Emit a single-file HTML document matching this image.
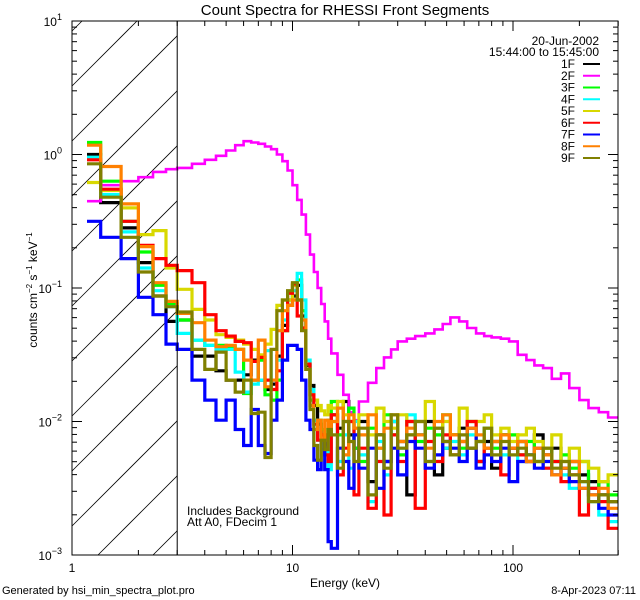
<!DOCTYPE html>
<html><head><meta charset="utf-8"><style>
html,body{margin:0;padding:0;background:#fff;width:640px;height:600px;overflow:hidden;}
svg{display:block;font-family:"Liberation Sans",sans-serif;}
</style></head><body>
<svg id="chart" width="640" height="600" viewBox="0 0 640 600" xmlns="http://www.w3.org/2000/svg" overflow="hidden">
<rect width="640" height="600" fill="#fff"/>
<defs><clipPath id="pc"><rect x="72" y="21" width="546" height="534"/></clipPath></defs>
<text x="345" y="15" font-size="15" text-anchor="middle">Count Spectra for RHESSI Front Segments</text>
<g id="hatch"></g>
<g id="series" clip-path="url(#pc)"></g>
<g id="axes"></g>
<text x="345" y="587" font-size="12" text-anchor="middle">Energy (keV)</text>
<text transform="translate(37,290) rotate(-90)" font-size="12" text-anchor="middle">counts cm<tspan font-size="8" dy="-5">−2</tspan><tspan dy="5"> s</tspan><tspan font-size="8" dy="-5">−1</tspan><tspan dy="5"> keV</tspan><tspan font-size="8" dy="-5">−1</tspan></text>
<text x="187" y="515" font-size="12">Includes Background</text>
<text x="187" y="526" font-size="12">Att A0, FDecim 1</text>
<text x="2" y="594" font-size="11">Generated by hsi_min_spectra_plot.pro</text>
<text x="636" y="594" font-size="11" text-anchor="end">8-Apr-2023 07:11</text>
<text x="599" y="45" font-size="12" text-anchor="end">20-Jun-2002</text>
<text x="599" y="56" font-size="12" text-anchor="end">15:44:00 to 15:45:00</text>
<g id="legend"></g>
</svg>
<script>
const edges=[1.17,1.35,1.67,2.0,2.33,2.67,3.0,
3.5,4,4.5,5,5.5,6,6.5,7,7.5,8,8.5,9,9.5,10,10.5,11,11.5,12,12.5,13,13.5,14,14.5,15,
16,17,18,19,20,22,24,26,28,30,33,36,40,44,48,52,57,62,68,74,80,88,96,105,115,125,137,150,165,180,200,220,245,270,300];
const seriesNames=["1F","2F","3F","4F","5F","6F","7F","8F","9F"];
const seriesColors=["#000000","#ff00ff","#00ff00","#00ffff","#d8d800","#ff0000","#0000ff","#ff8000","#808000"];
const s1F=[0.00,-0.36,-0.55,-0.81,-1.06,-1.25,
-1.24,-1.51,-1.51,-1.62,-1.69,-1.69,-1.65,-1.54,-1.69,-1.76,-1.72,-1.51,-1.28,-1.13,-1.06,-0.98,-1.21,-1.58,-1.73,-1.88,-2.02,-2.10,-2.17,-2.02,
-1.95,-2.05,-1.85,-2.1,-2.2,-2.0,-2.45,-2.1,-2.3,-2.0,-2.15,-2.55,-2.1,-2.0,-2.4,-2.2,-2.1,-2.05,-2.2,-2.3,-2.15,-2.35,-2.1,-2.2,-2.15,-2.3,-2.1,-2.25,-2.2,-2.35,-2.3,-2.4,-2.45,-2.55,-2.6];
const s2F=[-0.35,-0.23,-0.20,-0.17,-0.13,-0.11,
-0.10,-0.07,-0.04,-0.01,0.03,0.07,0.10,0.09,0.08,0.06,0.04,0.00,-0.05,-0.12,-0.23,-0.34,-0.45,-0.60,-0.75,-0.88,-1.00,-1.12,-1.25,-1.38,
-1.49,-1.65,-1.80,-1.93,-1.99,-1.85,-1.71,-1.60,-1.52,-1.46,-1.40,-1.38,-1.36,-1.34,-1.31,-1.27,-1.22,-1.25,-1.30,-1.34,-1.36,-1.37,-1.38,-1.40,-1.50,-1.54,-1.58,-1.60,-1.68,-1.64,-1.75,-1.84,-1.90,-1.93,-1.97];
const s3F=[0.09,-0.20,-0.50,-0.73,-0.98,-1.12,
-1.24,-1.39,-1.43,-1.43,-1.44,-1.46,-1.79,-1.69,-1.54,-1.80,-1.84,-1.69,-1.32,-1.09,-0.98,-0.94,-1.17,-1.54,-1.84,-1.99,-1.99,-2.06,-2.14,-1.99,
-1.85,-2.1,-2.0,-1.9,-2.2,-2.3,-2.05,-2.2,-1.95,-2.1,-2.25,-2.0,-2.15,-2.05,-2.1,-1.95,-2.1,-2.2,-2.0,-2.15,-2.05,-2.2,-2.1,-2.1,-2.25,-2.15,-2.3,-2.2,-2.3,-2.25,-2.35,-2.3,-2.5,-2.45,-2.55];
const s4F=[-0.02,-0.30,-0.58,-0.85,-1.02,-1.14,
-1.34,-1.39,-1.43,-1.46,-1.46,-1.63,-1.78,-1.72,-1.69,-1.47,-1.69,-1.54,-1.24,-1.09,-1.02,-0.89,-1.09,-1.54,-1.76,-1.99,-2.14,-2.21,-2.14,-2.36,
-2.0,-2.3,-2.1,-2.35,-2.0,-2.25,-2.6,-2.15,-2.4,-2.0,-2.2,-1.95,-2.1,-2.3,-2.05,-2.2,-2.15,-2.25,-2.1,-2.3,-2.2,-2.15,-2.25,-2.2,-2.3,-2.25,-2.2,-2.35,-2.3,-2.4,-2.5,-2.45,-2.6,-2.7,-2.75];
const s5F=[-0.21,-0.27,-0.40,-0.60,-0.57,-0.85,
-1.01,-1.16,-1.24,-1.35,-1.37,-1.39,-1.42,-1.46,-1.50,-1.42,-1.31,-1.13,-1.09,-1.09,-0.98,-1.09,-1.31,-1.61,-1.80,-1.84,-1.88,-1.92,-1.95,-1.88,
-1.9,-1.85,-1.95,-2.0,-2.05,-1.95,-2.1,-1.9,-2.0,-2.05,-1.95,-2.1,-2.0,-1.85,-2.05,-2.0,-2.1,-1.9,-2.05,-2.0,-1.95,-2.1,-2.05,-2.15,-2.1,-2.05,-2.15,-2.2,-2.1,-2.3,-2.2,-2.3,-2.35,-2.45,-2.4];
const s6F=[-0.04,-0.26,-0.50,-0.68,-0.78,-0.83,
-0.87,-0.96,-1.20,-1.32,-1.36,-1.40,-1.41,-1.55,-1.52,-1.69,-1.76,-1.62,-1.32,-1.04,-0.97,-1.21,-1.30,-1.57,-1.80,-2.02,-2.14,-2.10,-2.25,-2.30,
-1.95,-2.4,-2.2,-2.0,-2.55,-2.2,-2.65,-2.3,-2.7,-2.1,-2.3,-2.0,-2.65,-2.15,-2.3,-2.1,-2.25,-2.15,-2.0,-2.3,-2.2,-2.15,-2.4,-2.2,-2.25,-2.3,-2.2,-2.35,-2.3,-2.45,-2.4,-2.7,-2.5,-2.6,-2.8];
const s7F=[-0.50,-0.62,-0.78,-1.07,-1.20,-1.42,
-1.46,-1.69,-1.84,-1.99,-1.84,-2.06,-2.18,-1.91,-2.18,-2.24,-1.99,-1.84,-1.54,-1.43,-1.43,-1.46,-1.69,-1.99,-2.06,-2.29,-2.36,-2.14,-2.36,-2.90,
-2.95,-2.2,-2.3,-2.5,-2.1,-2.35,-2.2,-2.5,-2.3,-2.2,-2.4,-2.15,-2.2,-2.35,-2.25,-2.15,-2.2,-2.3,-2.05,-2.35,-2.25,-2.3,-2.2,-2.45,-2.3,-2.25,-2.35,-2.3,-2.4,-2.35,-2.45,-2.5,-2.55,-2.65,-2.7];
const s8F=[0.07,-0.09,-0.37,-0.69,-0.96,-1.10,
-1.19,-1.26,-1.39,-1.44,-1.43,-1.46,-1.54,-1.69,-1.39,-1.74,-1.69,-1.32,-1.17,-1.13,-1.09,-1.09,-1.24,-1.61,-1.88,-2.06,-1.99,-2.14,-1.99,-2.10,
-2.0,-1.9,-2.25,-1.95,-2.05,-2.1,-1.95,-2.2,-2.05,-1.95,-2.15,-2.05,-2.1,-2.2,-2.0,-1.95,-2.1,-2.15,-2.05,-2.1,-2.2,-2.15,-2.1,-2.2,-2.15,-2.3,-2.2,-2.25,-2.4,-2.35,-2.3,-2.5,-2.55,-2.5,-2.65];
const s9F=[-0.07,-0.32,-0.62,-0.88,-1.06,-1.14,
-1.18,-1.46,-1.61,-1.48,-1.69,-1.78,-1.69,-1.94,-1.93,-2.27,-1.46,-1.17,-1.09,-1.02,-0.96,-1.09,-1.32,-1.61,-1.91,-2.18,-2.29,-2.14,-2.21,-2.06,
-2.1,-2.35,-2.0,-2.15,-2.3,-2.05,-2.55,-2.1,-2.35,-1.95,-2.2,-2.1,-2.0,-2.3,-2.05,-2.15,-2.25,-2.1,-2.2,-2.15,-2.05,-2.25,-2.15,-2.25,-2.2,-2.25,-2.3,-2.2,-2.35,-2.3,-2.4,-2.45,-2.6,-2.55,-2.6];
const seriesValues=[s1F,s2F,s3F,s4F,s5F,s6F,s7F,s8F,s9F];
const yTickExps=[1,0,-1,-2,-3];
const xTickLabels=[1,10,100];

const NS="http://www.w3.org/2000/svg";
const X0=72,X1=618,Y0=21,Y1=555;
const xDec=220.5, yDec=(Y1-Y0)/4;
function xs(e){return X0+Math.log10(e)*xDec;}
function ys(l){return Y0+(1-l)*yDec;}
function mk(tag,attrs,parent){const el=document.createElementNS(NS,tag);for(const k in attrs)el.setAttribute(k,attrs[k]);parent.appendChild(el);return el;}

const hatch=document.getElementById('hatch');
const HX1=xs(3);
for(let k=-1;k<14;k++){
  const c=86+55*k;
  const xa=Math.max(X0, X0+c-Y1), xb=Math.min(HX1, X0+c-Y0);
  if(xb<=xa)continue;
  const ln=mk('line',{x1:xa,y1:c-(xa-X0),x2:xb,y2:c-(xb-X0),stroke:'#000','stroke-width':0.8},hatch);
  
  
}
const vl=mk('line',{x1:HX1,y1:Y0,x2:HX1,y2:Y1,stroke:'#000','stroke-width':1},document.getElementById('axes'));



const sg=document.getElementById('series');
seriesValues.forEach((vals,si)=>{
  let d='M'+xs(edges[0]).toFixed(1)+','+ys(vals[0]).toFixed(1);
  for(let i=0;i<vals.length;i++){
    if(i>0)d+=' V'+ys(vals[i]).toFixed(1);
    d+=' H'+xs(edges[i+1]).toFixed(1);
  }
  const p=mk('path',{d:d,fill:'none',stroke:seriesColors[si],'stroke-width':si==1?2.6:3.2,'stroke-linejoin':'miter'},sg);
  
  
});

const ax=document.getElementById('axes');
const frame=mk('rect',{x:X0,y:Y0,width:X1-X0,height:Y1-Y0,fill:'none',stroke:'#000','stroke-width':1},ax);


for(let dcd=-3;dcd<1;dcd++){
  for(let m=1;m<10;m++){
    const y=ys(dcd+Math.log10(m));
    const L=m==1?10:5;
    mk('line',{x1:X0,y1:y,x2:X0+L,y2:y,stroke:'#000'},ax);
    mk('line',{x1:X1,y1:y,x2:X1-L,y2:y,stroke:'#000'},ax);
  }
}
for(let dcd=0;dcd<3;dcd++){
  for(let m=1;m<10;m++){
    const v=m*Math.pow(10,dcd); if(v>300)break;
    const x=xs(v); const L=m==1?10:5;
    mk('line',{x1:x,y1:Y1,x2:x,y2:Y1-L,stroke:'#000'},ax);
    mk('line',{x1:x,y1:Y0,x2:x,y2:Y0+L,stroke:'#000'},ax);
  }
}
yTickExps.forEach(e=>{
  const t=mk('text',{x:X0-10,y:ys(e)+5,'font-size':12,'text-anchor':'end'},ax);
  t.textContent='10';
  const s=mk('tspan',{'font-size':9,dy:-6},t); s.textContent=e<0?'−'+(-e):String(e);
  
  
});
xTickLabels.forEach(v=>{
  const t=mk('text',{x:xs(v),y:Y1+17,'font-size':12,'text-anchor':'middle'},ax);
  t.textContent=String(v);
  
  
});

const lg=document.getElementById('legend');
seriesNames.forEach((n,i)=>{
  const y=64+i*11.75;
  const g=mk('g',{},lg);
  
  
  const t=mk('text',{x:575,y:y+4,'font-size':12,'text-anchor':'end'},g); t.textContent=n;
  mk('line',{x1:583,y1:y,x2:600,y2:y,stroke:seriesColors[i],'stroke-width':2},g);
});
</script>
</body></html>
